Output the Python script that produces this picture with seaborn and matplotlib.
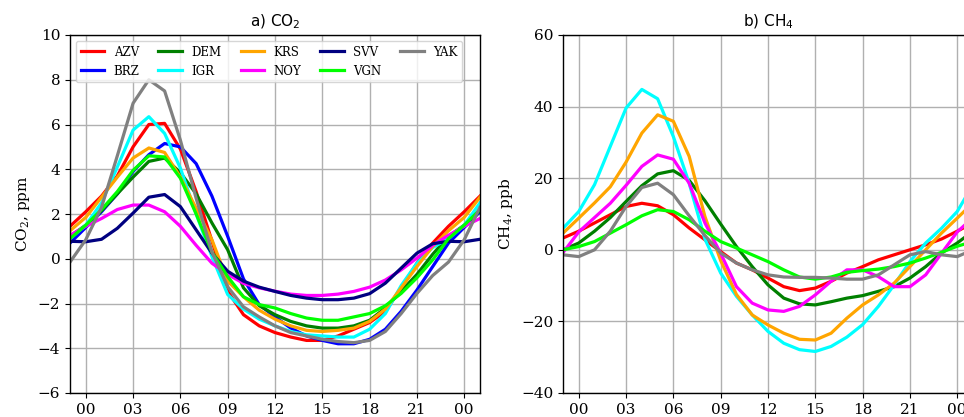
import matplotlib
matplotlib.use("Agg")
import matplotlib.pyplot as plt
import seaborn as sns
import pandas as pd

hours = list(range(-1, 26))
stations = ["AZV", "BRZ", "DEM", "IGR", "KRS", "NOY", "SVV", "VGN", "YAK"]
colors = ["red", "blue", "green", "cyan", "orange", "magenta", "navy", "lime", "gray"]
tick_hours = [0, 3, 6, 9, 12, 15, 18, 21, 24]
tick_labels = ["00", "03", "06", "09", "12", "15", "18", "21", "00"]

co2_AZV = [1.45, 2.1, 2.8, 3.7, 5.0, 6.0, 6.05, 4.9, 3.0, 0.8, -1.45, -2.5, -3.0, -3.3, -3.5, -3.65, -3.65, -3.45, -3.15, -2.85, -2.35, -1.3, -0.2, 0.7, 1.45, 2.1, 2.8]
co2_BRZ = [0.7, 1.4, 2.1, 2.9, 3.9, 4.65, 5.15, 5.0, 4.25, 2.8, 1.0, -0.9, -2.05, -2.6, -3.1, -3.45, -3.65, -3.8, -3.8, -3.6, -3.15, -2.35, -1.4, -0.35, 0.7, 1.4, 2.1]
co2_DEM = [1.0, 1.5, 2.15, 2.9, 3.65, 4.35, 4.5, 3.85, 2.9, 1.6, 0.4, -1.3, -2.1, -2.5, -2.8, -3.0, -3.1, -3.1, -3.0, -2.75, -2.2, -1.45, -0.7, 0.2, 1.0, 1.5, 2.15]
co2_IGR = [0.9, 1.5, 2.5, 4.1, 5.75, 6.35, 5.6, 4.05, 2.0, 0.1, -1.6, -2.25, -2.7, -3.0, -3.25, -3.4, -3.45, -3.5, -3.5, -3.15, -2.45, -1.2, -0.2, 0.5, 0.9, 1.5, 2.5]
co2_KRS = [1.25, 1.85, 2.75, 3.65, 4.5, 4.95, 4.75, 3.65, 2.25, 0.85, -1.0, -1.7, -2.3, -2.7, -3.0, -3.2, -3.25, -3.2, -3.1, -2.8, -2.25, -1.3, -0.35, 0.55, 1.25, 1.85, 2.75]
co2_NOY = [1.05, 1.45, 1.8, 2.2, 2.4, 2.4, 2.1, 1.45, 0.6, -0.2, -0.7, -1.1, -1.3, -1.45, -1.58, -1.64, -1.64, -1.58, -1.46, -1.27, -0.95, -0.5, 0.03, 0.6, 1.05, 1.45, 1.8]
co2_SVV = [0.78, 0.76, 0.87, 1.36, 2.04, 2.75, 2.87, 2.33, 1.29, 0.25, -0.56, -1.0, -1.27, -1.46, -1.64, -1.76, -1.83, -1.83, -1.76, -1.56, -1.09, -0.42, 0.25, 0.67, 0.78, 0.76, 0.87]
co2_VGN = [0.9, 1.5, 2.2, 3.0, 3.95, 4.6, 4.55, 3.6, 2.0, 0.3, -0.8, -1.7, -2.05, -2.2, -2.45, -2.65, -2.75, -2.75, -2.6, -2.45, -2.1, -1.55, -0.85, -0.05, 0.9, 1.5, 2.2]
co2_YAK = [-0.15, 0.85, 2.3, 4.6, 6.95, 8.0, 7.5, 5.3, 2.7, 0.3, -1.25, -2.15, -2.6, -3.0, -3.3, -3.45, -3.6, -3.7, -3.75, -3.65, -3.25, -2.45, -1.55, -0.75, -0.15, 0.85, 2.3]

ch4_AZV = [3.3, 5.2, 7.5, 9.8, 12.1, 13.0, 12.3, 9.8, 6.1, 2.8, -0.5, -3.7, -5.6, -7.9, -10.3, -11.4, -10.7, -8.8, -6.5, -4.7, -2.8, -1.4, 0.0, 1.4, 3.0, 5.2, 7.5]
ch4_DEM = [0.0, 1.9, 5.2, 9.0, 13.5, 17.9, 21.2, 22.1, 19.4, 13.7, 7.2, 0.9, -4.7, -9.8, -13.5, -15.1, -15.4, -14.5, -13.5, -12.8, -11.6, -10.3, -7.9, -4.7, -0.9, 1.9, 5.2]
ch4_IGR = [6.0, 10.7, 18.2, 28.9, 39.6, 44.8, 42.2, 31.6, 18.6, 3.0, -6.5, -13.0, -18.2, -22.8, -26.1, -27.9, -28.4, -27.0, -24.4, -20.9, -15.8, -9.8, -3.3, 1.9, 6.0, 10.7, 18.2]
ch4_KRS = [4.65, 8.85, 13.1, 17.6, 24.5, 32.6, 37.7, 35.9, 26.1, 9.3, -3.0, -12.5, -18.2, -21.0, -23.3, -25.0, -25.2, -23.3, -19.1, -15.4, -12.6, -9.3, -4.7, 0.0, 4.65, 8.85, 13.1]
ch4_NOY = [-0.8, 5.0, 9.0, 13.0, 18.0, 23.3, 26.5, 25.3, 18.6, 7.5, -1.0, -10.3, -14.9, -16.8, -17.2, -15.8, -12.6, -8.8, -5.6, -5.6, -7.5, -10.3, -10.3, -7.0, -1.0, 5.0, 9.0]
ch4_VGN = [0.0, 0.9, 2.3, 4.65, 7.0, 9.5, 11.2, 10.7, 8.4, 5.2, 2.3, 0.5, -1.4, -3.3, -5.6, -7.6, -8.2, -7.6, -6.3, -5.8, -5.4, -4.7, -3.7, -2.3, -0.7, 1.0, 2.3]
ch4_YAK = [-1.4, -1.9, 0.0, 5.2, 12.1, 17.4, 18.6, 15.4, 9.5, 4.0, -0.9, -3.7, -5.6, -7.0, -7.6, -7.7, -7.7, -7.9, -8.2, -8.2, -7.0, -4.2, -1.4, -0.5, -1.4, -1.9, 0.0]

co2_series = {"AZV": co2_AZV, "BRZ": co2_BRZ, "DEM": co2_DEM, "IGR": co2_IGR, "KRS": co2_KRS,
              "NOY": co2_NOY, "SVV": co2_SVV, "VGN": co2_VGN, "YAK": co2_YAK}
ch4_series = {"AZV": ch4_AZV, "DEM": ch4_DEM, "IGR": ch4_IGR, "KRS": ch4_KRS,
              "NOY": ch4_NOY, "VGN": ch4_VGN, "YAK": ch4_YAK}


def long_df(series):
    rows = []
    for st, vals in series.items():
        for h, v in zip(hours, vals):
            rows.append({"hour": h, "value": v, "station": st})
    return pd.DataFrame(rows)


plt.rcParams["font.family"] = ["DejaVu Serif"]
plt.rcParams["mathtext.fontset"] = "dejavuserif"
plt.rcParams["font.size"] = 11

palette = dict(zip(stations, colors))

fig = plt.figure(figsize=(9.64, 4.17), dpi=100)
ax1 = fig.add_axes([70 / 964, 24 / 417, 410 / 964, 358 / 417])
ax2 = fig.add_axes([563 / 964, 24 / 417, 410 / 964, 358 / 417])

df1 = long_df(co2_series)
df2 = long_df(ch4_series)
order1 = [s for s in stations if s in co2_series]
order2 = [s for s in stations if s in ch4_series]

sns.lineplot(data=df1, x="hour", y="value", hue="station", hue_order=order1,
             palette=palette, linewidth=2.3, ax=ax1, legend=True)
sns.lineplot(data=df2, x="hour", y="value", hue="station", hue_order=order2,
             palette=palette, linewidth=2.3, ax=ax2, legend=False)

for ax in (ax1, ax2):
    ax.set_xlim(-1, 25)
    ax.set_xticks(tick_hours)
    ax.set_xticklabels(tick_labels)
    ax.grid(True, color="#b0b0b0", linewidth=1.0)
    ax.set_axisbelow(True)
    ax.set_xlabel("")
    for sp in ax.spines.values():
        sp.set_color("black")
        sp.set_linewidth(1.0)
    ax.tick_params(labelsize=11)

ax1.set_ylim(-6, 10)
ax1.set_yticks(list(range(-6, 11, 2)))
ax1.set_ylabel("CO$_2$, ppm", fontsize=11)
ax1.set_title("a) CO$_2$", fontsize=11, fontfamily="DejaVu Sans", math_fontfamily="dejavusans")

ax2.set_ylim(-40, 60)
ax2.set_yticks(list(range(-40, 61, 20)))
ax2.set_ylabel("CH$_4$, ppb", fontsize=11)
ax2.set_title("b) CH$_4$", fontsize=11, fontfamily="DejaVu Sans", math_fontfamily="dejavusans")

handles, labels = ax1.get_legend_handles_labels()
ax1.legend(handles, labels, ncol=5, loc="upper left", fontsize=8.5, title=None,
           columnspacing=1.6, handletextpad=0.8)

fig.savefig("out.png", dpi=100)
